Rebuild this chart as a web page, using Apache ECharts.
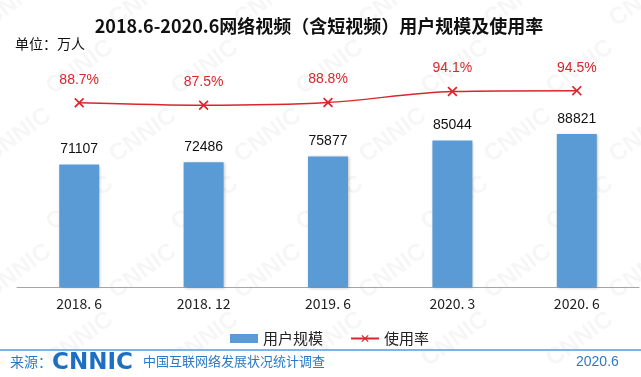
<!DOCTYPE html>
<html>
<head>
<meta charset="utf-8">
<script src="https://cdn.jsdelivr.net/npm/echarts@6/dist/echarts.min.js"></script>
<style>
  html, body { margin: 0; padding: 0; background: #fff; }
  #chart-container { width: 641px; height: 377px; }
</style>
</head>
<body>
<div id="chart-container"></div>
<script>
const categories = ["2018. 6", "2018. 12", "2019. 6", "2020. 3", "2020. 6"];
const userScale = [71107, 72486, 75877, 85044, 88821];
const usageRate = [88.7, 87.5, 88.8, 94.1, 94.5];

const blue = "#5b9bd5";
const red = "#d9262c";
const footerBlue = "#2a7ac8";
const cross = "path://M0,1.2L1.2,0L5,3.8L8.8,0L10,1.2L6.2,5L10,8.8L8.8,10L5,6.2L1.2,10L0,8.8L3.8,5Z";

const chartContainer = document.getElementById("chart-container");
const myChart = echarts.init(chartContainer);

// faint CNNIC watermark, decoration only
const watermark = [];
for (let row = 0; row < 6; row++) {
  for (let col = 0; col < 6; col++) {
    watermark.push({
      type: "text",
      x: col * 125 + (row % 2) * 62 - 20,
      y: row * 68 + 12,
      rotation: Math.PI / 5,
      silent: true,
      z: -10,
      style: {
        text: "CNNIC",
        fill: "rgba(0,0,0,0.035)",
        font: "bold 24px 'Liberation Sans'",
      },
    });
  }
}

const option = {
  backgroundColor: "#fff",
  animation: false,
  title: {
    text: "2018.6-2020.6网络视频（含短视频）用户规模及使用率",
    left: 314,
    textAlign: "center",
    top: 12,
    textStyle: {
      fontFamily: "Noto Sans CJK SC",
      fontSize: 18,
      fontWeight: "bold",
      color: "#111",
    },
  },
  legend: {
    left: 225,
    top: 326,
    itemWidth: 28,
    itemHeight: 9,
    itemGap: 27,
    textStyle: {
      fontFamily: "Noto Sans CJK SC",
      fontSize: 15,
      color: "#222",
    },
    data: [
      { name: "用户规模", icon: "rect", itemStyle: { borderWidth: 0 } },
      { name: "使用率" },
    ],
  },
  grid: { left: 17, right: 2, top: 46, bottom: 90 },
  xAxis: {
    type: "category",
    data: categories,
    axisLine: { lineStyle: { color: "#a6a6a6" } },
    axisTick: { inside: true, length: 4, lineStyle: { color: "#a6a6a6" } },
    axisLabel: {
      margin: 10,
      fontFamily: "Noto Sans CJK SC",
      fontSize: 14,
      color: "#222",
    },
  },
  yAxis: [
    { type: "value", min: 0, max: 140000, show: false, splitLine: { show: false } },
    { type: "value", min: 0, max: 116, show: false, splitLine: { show: false } },
  ],
  series: [
    {
      name: "用户规模",
      type: "bar",
      data: userScale,
      barWidth: 40,
      itemStyle: {
        color: blue,
        shadowColor: "rgba(0,0,0,0.25)",
        shadowBlur: 3,
        shadowOffsetX: 1,
        shadowOffsetY: 1,
      },
      label: {
        show: true,
        position: "top",
        distance: 8,
        fontFamily: "Liberation Sans",
        fontSize: 14,
        color: "#111",
      },
    },
    {
      name: "使用率",
      type: "line",
      yAxisIndex: 1,
      data: usageRate,
      smooth: 0.3,
      symbol: cross,
      symbolSize: 10,
      lineStyle: { color: red, width: 1.5 },
      itemStyle: { color: red },
      label: {
        show: true,
        position: "top",
        distance: 11,
        formatter: (p) => p.value.toFixed(1) + "%",
        fontFamily: "Liberation Sans",
        fontSize: 14,
        color: red,
      },
    },
  ],
  graphic: watermark.concat([
    {
      type: "text",
      left: 15,
      top: 37,
      style: {
        text: "单位：万人",
        font: "14px 'Noto Sans CJK SC'",
        fill: "#111",
      },
    },
    {
      type: "line",
      shape: { x1: 0, y1: 350, x2: 641, y2: 350 },
      style: { stroke: "#7fb2e5", lineWidth: 2 },
    },
    {
      type: "text",
      left: 10,
      top: 355,
      style: {
        text: "来源：",
        font: "14px 'Noto Sans CJK SC'",
        fill: footerBlue,
      },
    },
    {
      type: "text",
      left: 52,
      top: 352,
      style: {
        text: "CNNIC",
        font: "900 23px 'DejaVu Sans'",
        fill: "#1d6fc4",
      },
    },
    {
      type: "text",
      left: 143,
      top: 355,
      style: {
        text: "中国互联网络发展状况统计调查",
        font: "13px 'Noto Sans CJK SC'",
        fill: footerBlue,
      },
    },
    {
      type: "text",
      left: 576,
      top: 355,
      style: {
        text: "2020.6",
        font: "14px 'Liberation Sans'",
        fill: footerBlue,
      },
    },
  ]),
};

myChart.setOption(option);
</script>
</body>
</html>
